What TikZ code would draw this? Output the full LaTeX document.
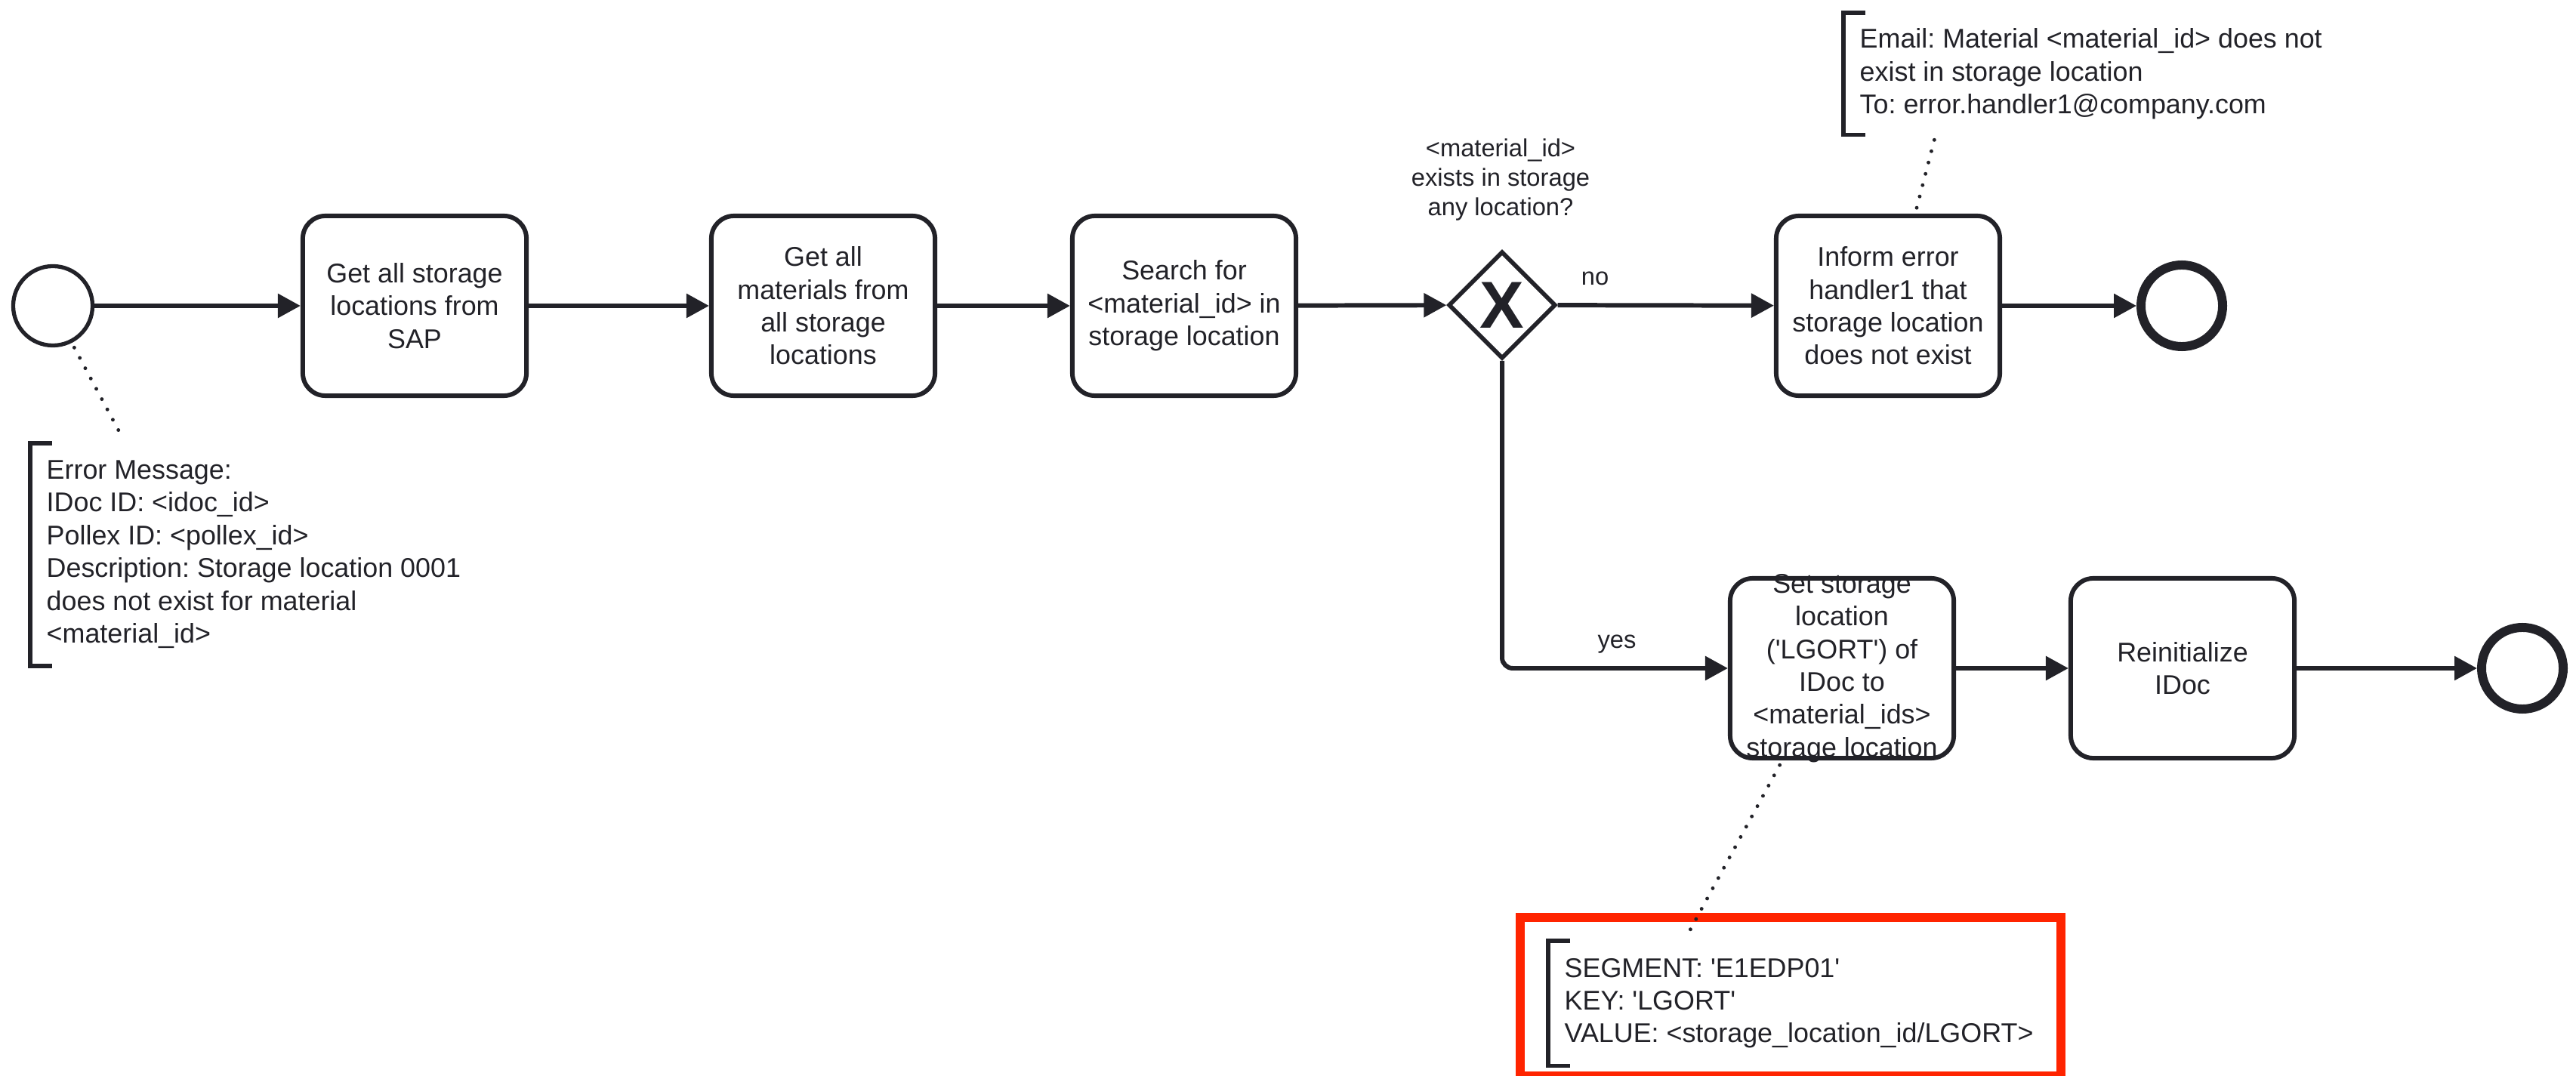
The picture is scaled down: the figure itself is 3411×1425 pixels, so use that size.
\documentclass[tikz,border=0pt]{standalone}
\usepackage{fontspec}
\setmainfont{Liberation Sans}
\usepackage{tikz}
\usetikzlibrary{positioning,arrows.meta,shapes.geometric}
\definecolor{ink}{RGB}{34,34,40}
\definecolor{hlred}{RGB}{255,36,0}
\newcommand{\txtfont}{\fontsize{10.2pt}{12.35pt}\selectfont}
\newcommand{\lblfont}{\fontsize{9.3pt}{11.2pt}\selectfont}
\newcommand{\sqt}{\textquotesingle}
\frenchspacing

\begin{document}
\begin{tikzpicture}[x=0.01cm,y=-0.01cm,
  task/.style={draw=ink,line width=1.7pt,rounded corners=3mm,minimum width=2.96cm,minimum height=2.38cm,align=center,font=\txtfont,text=ink},
  tasktext/.style={align=center,font=\txtfont,text=ink},
  startev/.style={circle,draw=ink,line width=1.5pt,minimum size=1.05cm,inner sep=0pt},
  endev/.style={circle,draw=ink,line width=3.4pt,minimum size=1.08cm,inner sep=0pt},
  xgate/.style={diamond,aspect=1,draw=ink,line width=1.6pt,minimum size=1.42cm,inner sep=0pt,text=ink,font=\fontsize{25pt}{25pt}\selectfont\bfseries},
  flow/.style={draw=ink,line width=1.7pt,-{Triangle[length=3mm,width=3.1mm]}},
  assoc/.style={draw=ink,line width=1.4pt,line cap=round,dash pattern=on 0pt off 4.4pt,shorten <=2pt,shorten >=2pt},
  annot/.style={anchor=north west,align=left,inner xsep=0.21cm,inner ysep=0pt,font=\txtfont,text=ink},
  bracket/.style={draw=ink,line width=1.7pt},
  lbl/.style={font=\lblfont,text=ink,align=center}]
\useasboundingbox (0,0) rectangle (3411,1425);
% Highlight frame
\draw[hlred,line width=3.4pt] (2013,1215) rectangle (2729,1425);
% Events, tasks, gateway
\node[startev] (start) at (70,405) {};
\node[task] (getloc) at (549,405) {Get all storage\\locations from\\SAP};
\node[task] (getmat) at (1090,405) {Get all\\materials from\\all storage\\locations};
\node[task] (search) at (1568,405) {Search for\\<material\_id> in\\storage location};
\node[xgate] (gw) at (1989,404) {X};
\node[task] (inform) at (2500,405) {Inform error\\handler1 that\\storage location\\does not exist};
\node[endev] (endno) at (2889,405) {};
\node[task] (setloc) at (2439,885) {};
\node[tasktext] (setloctxt) at (setloc.center) {Set storage\\location\\(\sqt LGORT\sqt) of\\IDoc to\\<material\_ids>\\storage location};
\node[task] (reinit) at (2890,885) {Reinitialize\\IDoc};
\node[endev] (endyes) at (3340,885) {};
% Labels
\node[lbl] (gwq) at (1987,238) {<material\_id>\\exists in storage\\any location?};
\node[lbl] (lblno) at (2112,369) {no};
\node[lbl] (lblyes) at (2141,853) {yes};
% Sequence flows
\draw[flow] (start) -- (getloc);
\draw[flow] (getloc) -- (getmat);
\draw[flow] (getmat) -- (search);
\draw[flow] (search) -- (gw);
\draw[flow] (gw) -- (inform);
\draw[flow] (inform) -- (endno);
\draw[flow,rounded corners=1.4mm] (gw.south) |- (setloc.west);
\draw[flow] (setloc) -- (reinit);
\draw[flow] (reinit) -- (endyes);
% Annotations
\node[annot,minimum height=2.93cm] (errmsg) at (40,587) {Error Message:\\IDoc ID: <idoc\_id>\\Pollex ID: <pollex\_id>\\Description: Storage location 0001\\does not exist for material\\<material\_id>};
\node[annot,minimum height=1.60cm] (email) at (2441,17) {Email: Material <material\_id> does not\\exist in storage location\\To: error.handler1@company.com};
\node[annot,minimum height=1.64cm] (segm) at (2050,1246) {SEGMENT: \sqt E1EDP01\sqt\\KEY: \sqt LGORT\sqt\\VALUE: <storage\_location\_id/LGORT>};
\foreach \n in {errmsg,email,segm}
  \draw[bracket] ([xshift=2.9mm]\n.north west) -- (\n.north west) -- (\n.south west) -- ([xshift=2.9mm]\n.south west);
% Associations
\draw[assoc] (start.-63) -- ([xshift=1.26cm]errmsg.north west);
\draw[assoc] ([xshift=1.22cm]email.south west) -- ([xshift=0.36cm]inform.north);
\draw[assoc] ([xshift=-0.79cm]setloc.south) -- ([xshift=1.8cm]segm.north west);
\end{tikzpicture}
\end{document}
